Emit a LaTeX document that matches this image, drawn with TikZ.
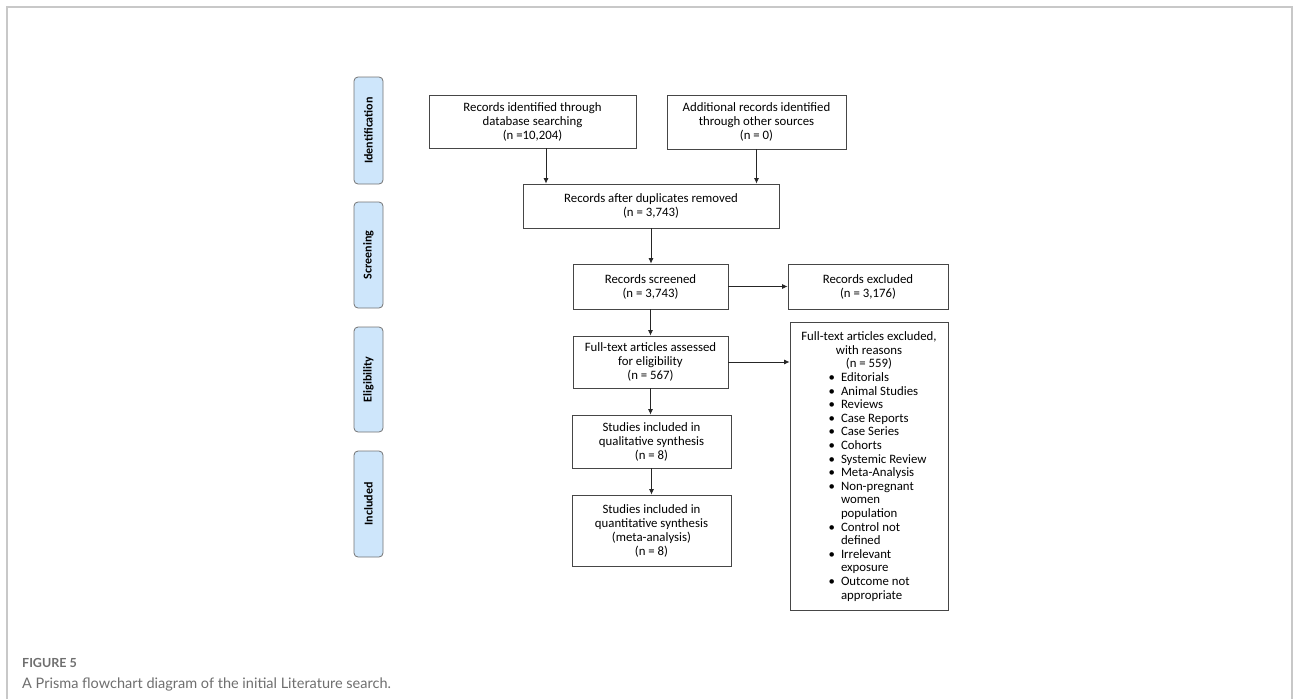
\documentclass[tikz,border=0pt]{standalone}
\usepackage{fontspec}
\usepackage{tikz}
\usetikzlibrary{positioning, arrows.meta}

\newfontfamily\boxfont{Carlito}
\newfontfamily\capfont{Lato}

\definecolor{sideblue}{RGB}{206,230,251}
\definecolor{sidegray}{RGB}{115,115,115}
\definecolor{boxgray}{RGB}{70,70,70}
\definecolor{capgray}{RGB}{110,110,110}
\definecolor{framegray}{RGB}{200,200,200}

\newcommand{\xbul}{\leavevmode\llap{\textbullet\hspace{6pt}}}

\begin{document}
\begin{tikzpicture}[x=1pt, y=-1pt,
        box/.style={draw=boxgray, line width=0.8pt, align=center, inner sep=2pt,
                font=\boxfont\fontsize{12.8}{14}\selectfont},
        side/.style={draw=sidegray, fill=sideblue, rounded corners=4pt, line width=0.8pt,
                rotate=90, minimum width=106pt, minimum height=29pt, inner sep=0pt,
                font=\boxfont\bfseries\fontsize{12}{13}\selectfont},
        arr/.style={-{Latex[length=5.5pt,width=5pt]}, line width=0.8pt, draw=black!85}]

        \useasboundingbox (0,0) rectangle (1293,699);

        \draw[framegray, line width=1.5pt] (7,699) -- (7,7) -- (1292,7) -- (1292,699);

        \node (lid) at (368.5,130.5) [side, minimum width=107pt] {Identification};
        \node (lscr) at (368.5,255) [side] {Screening};
        \node (lelig) at (368.5,379.5) [side, minimum width=105pt] {Eligibility};
        \node (lincl) at (368.5,504) [side] {Included};

        \node (id) at (532.5,121.5) [box, minimum width=207pt, minimum height=53pt] {Records identified through\\database searching\\(n =10,204)};

        \node (add) at (756.5,122) [box, minimum width=179pt, minimum height=54pt] {Additional records identified\\through other sources\\(n = 0)};

        \node (dup) at (651,206) [box, minimum width=256pt, minimum height=44pt] {Records after duplicates removed\\(n = 3,743)};

        \node (scr) at (650.5,286.5) [box, minimum width=155pt, minimum height=45pt] {Records screened\\(n = 3,743)};

        \node (exc) at (868,286.5) [box, minimum width=160pt, minimum height=45pt] {Records excluded\\(n = 3,176)};

        \node (elig) at (650.5,362) [box, minimum width=155pt, minimum height=52pt] {Full-text articles assessed\\for eligibility\\(n = 567)};

        \node (fexcl) at (869,322) [box, anchor=north, minimum width=158pt, minimum height=288pt, align=left] {%
                \begin{minipage}{150pt}\fontsize{12.8}{13.6}\selectfont
                {\centering Full-text articles excluded,\\with reasons\\(n = 559)\par}
                \leftskip=47pt\relax
                \xbul Editorials\\
                \xbul Animal Studies\\
                \xbul Reviews\\
                \xbul Case Reports\\
                \xbul Case Series\\
                \xbul Cohorts\\
                \xbul Systemic Review\\
                \xbul Meta-Analysis\\
                \xbul Non-pregnant\\women\\population\\
                \xbul Control not\\defined\\
                \xbul Irrelevant\\exposure\\
                \xbul Outcome not\\appropriate
                \end{minipage}};

        \node (qual) at (651.5,441.5) [box, minimum width=159pt, minimum height=53pt] {Studies included in\\qualitative synthesis\\(n = 8)};

        \node (quant) at (651.5,530.5) [box, minimum width=159pt, minimum height=71pt] {Studies included in\\quantitative synthesis\\(meta-analysis)\\(n = 8)};

        \draw[arr] ([xshift=13.5pt]id.south) -- ([xshift=13.5pt]id.south |- dup.north);
        \draw[arr] (add.south) -- (add.south |- dup.north);
        \draw[arr] (dup.south) -- (dup.south |- scr.north);
        \draw[arr] (scr.east) -- (exc.west);
        \draw[arr] (scr.south) -- (elig.north);
        \draw[arr] (elig.east) -- (elig.east -| fexcl.west);
        \draw[arr] (elig.south) -- (elig.south |- qual.north);
        \draw[arr] (qual.south) -- (quant.north);

        \node (fignum) at (22,663) [anchor=west, inner sep=0pt, text=capgray, font=\capfont\bfseries\fontsize{12.5}{14}\selectfont] {FIGURE 5};

        \node (figcap) at (22,684) [anchor=west, inner sep=0pt, text=capgray, font=\capfont\fontsize{14.5}{17}\selectfont] {A Prisma flowchart diagram of the initial Literature search.};
\end{tikzpicture}
\end{document}
